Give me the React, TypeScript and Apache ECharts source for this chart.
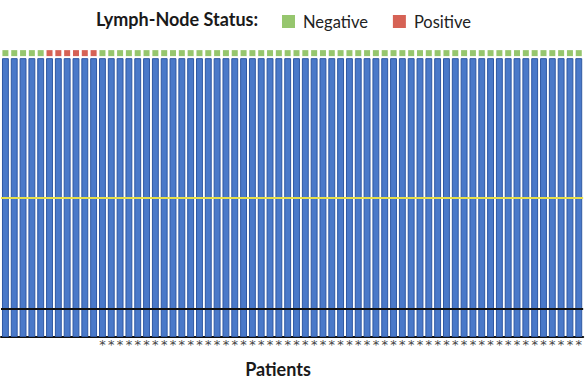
import React, { useEffect, useRef } from "react";
import * as echarts from "echarts";

// One entry per patient (66 patients visible)
const patients: string[] = [
  "1","2","3","4","5","6","7","8","9","10","11","12","13","14","15","16","17","18","19","20","21","22",
  "23","24","25","26","27","28","29","30","31","32","33","34","35","36","37","38","39","40","41","42","43","44",
  "45","46","47","48","49","50","51","52","53","54","55","56","57","58","59","60","61","62","63","64","65","66",
];

// Bar value per patient (percent)
const barValues: number[] = [
  100,100,100,100,100,100,100,100,100,100,100,100,100,100,100,100,100,100,100,100,100,100,
  100,100,100,100,100,100,100,100,100,100,100,100,100,100,100,100,100,100,100,100,100,100,
  100,100,100,100,100,100,100,100,100,100,100,100,100,100,100,100,100,100,100,100,100,100,
];

// Lymph-node status: N = negative, P = positive
const nodeStatus: string[] = [
  "N","N","N","N","N","P","P","P","P","P","P","N","N","N","N","N","N","N","N","N","N","N",
  "N","N","N","N","N","N","N","N","N","N","N","N","N","N","N","N","N","N","N","N","N","N",
  "N","N","N","N","N","N","N","N","N","N","N","N","N","N","N","N","N","N","N","N","N","N",
];

// Asterisk marker under bar (1 = shown)
const asterisk: number[] = [
  0,0,0,0,0,0,0,0,0,0,0,1,1,1,1,1,1,1,1,1,1,1,
  1,1,1,1,1,1,1,1,1,1,1,1,1,1,1,1,1,1,1,1,1,1,
  1,1,1,1,1,1,1,1,1,1,1,1,1,1,1,1,1,1,1,1,1,1,
];

const statusRowValue = 101.8;
const yellowThreshold = 50;
const blackThreshold = 10;

const FONT = "Lato, 'Open Sans', sans-serif";

export default function App() {
  const ref = useRef<HTMLDivElement>(null);
  useEffect(() => {
    if (!ref.current) return;
    const chart = echarts.init(ref.current, null, { renderer: "svg" });
    const negData = patients.map((p, i) => (nodeStatus[i] === "N" ? [p, statusRowValue] : [p, null]));
    const posData = patients.map((p, i) => (nodeStatus[i] === "P" ? [p, statusRowValue] : [p, null]));
    chart.setOption({
      animation: false,
      backgroundColor: "#ffffff",
      textStyle: { fontFamily: FONT },
      graphic: [
        {
          type: "text",
          left: 96,
          top: 10,
          style: { text: "Lymph-Node Status:", font: `bold 18px ${FONT}`, fill: "#1a1a1a" },
        },
        {
          type: "text",
          x: 278,
          y: 369,
          style: {
            text: "Patients",
            font: `bold 18px ${FONT}`,
            fill: "#1a1a1a",
            align: "center",
            verticalAlign: "middle",
          },
        },
      ],
      legend: {
        left: 282,
        top: 13,
        padding: 0,
        itemWidth: 13,
        itemHeight: 13,
        itemGap: 25,
        icon: "rect",
        textStyle: { fontSize: 16.5, color: "#222", fontFamily: FONT, padding: [0, 0, 0, 3] },
        data: ["Negative", "Positive"],
      },
      grid: { left: 1, right: 0, top: 47, bottom: 53, containLabel: false },
      xAxis: {
        type: "category",
        data: patients,
        axisLine: { lineStyle: { color: "#111", width: 2 } },
        axisTick: { show: false },
        axisLabel: {
          interval: 0,
          margin: 1,
          fontSize: 13,
          fontFamily: "'DejaVu Sans', sans-serif",
          color: "#444",
          formatter: (_v: string, i: number) => (asterisk[i] ? "*" : ""),
        },
      },
      yAxis: { type: "value", min: 0, max: 104, show: false, splitLine: { show: false } },
      series: [
        {
          type: "bar",
          name: "Patients",
          data: barValues,
          barCategoryGap: "22%",
          itemStyle: { color: "#4a79c9", borderColor: "#2f58a3", borderWidth: 1 },
          markLine: {
            silent: true,
            symbol: "none",
            label: { show: false },
            data: [
              { yAxis: yellowThreshold, lineStyle: { color: "#e6df4a", width: 2, type: "solid" } },
              { yAxis: blackThreshold, lineStyle: { color: "#111111", width: 2, type: "solid" } },
            ],
          },
          z: 2,
        },
        {
          type: "scatter",
          name: "Negative",
          data: negData,
          symbol: "rect",
          symbolSize: [6, 6],
          clip: false,
          itemStyle: { color: "#7cb84a" },
          z: 3,
        },
        {
          type: "scatter",
          name: "Positive",
          data: posData,
          symbol: "rect",
          symbolSize: [6, 6],
          clip: false,
          itemStyle: { color: "#cc3b2b" },
          z: 3,
        },
      ],
    });
    return () => chart.dispose();
  }, []);
  return <div ref={ref} style={{ width: 585, height: 390, position: "absolute", left: 0, top: 0 }} />;
}
